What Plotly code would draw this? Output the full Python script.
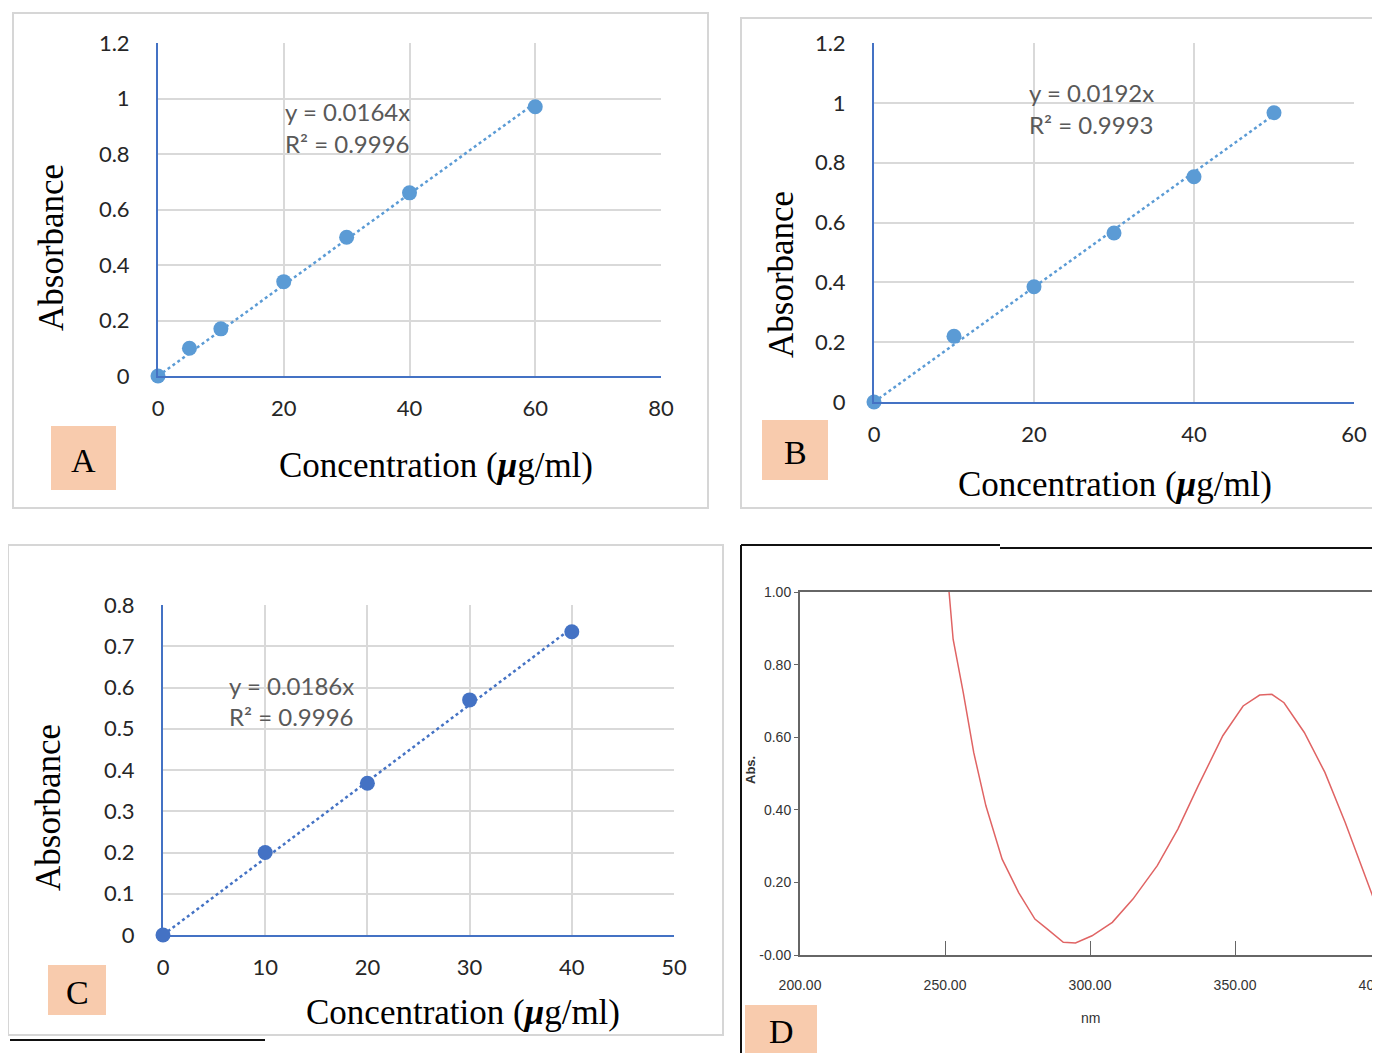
import plotly.graph_objects as go

# The page places the figure 8 px in from the window's top-left corner.
OFF = 8
W, H = 1380 - OFF, 1053 - OFF

# ---------------- data ----------------
a_conc = [0, 5, 10, 20, 30, 40, 60]
a_abs = [0, 0.10, 0.17, 0.34, 0.50, 0.66, 0.97]
a_slope = 0.0164
a_r2 = "0.9996"

b_conc = [0, 10, 20, 30, 40, 50]
b_abs = [0, 0.22, 0.385, 0.565, 0.753, 0.967]
b_slope = 0.0192
b_r2 = "0.9993"

c_conc = [0, 10, 20, 30, 40]
c_abs = [0, 0.20, 0.368, 0.57, 0.735]
c_slope = 0.0186
c_r2 = "0.9996"

d_nm = [251.4, 252.8, 256.3, 259.9, 264.1, 269.7, 275.4, 281.0, 285.2, 290.8,
        295.0, 300.7, 307.7, 314.8, 323.2, 330.3, 337.3, 345.8, 352.8, 358.5,
        362.7, 366.9, 373.9, 381.0, 388.0, 395.0, 400.4]
d_abs = [1.0, 0.87, 0.723, 0.558, 0.411, 0.264, 0.172, 0.099, 0.072, 0.035,
         0.033, 0.053, 0.09, 0.154, 0.246, 0.347, 0.466, 0.604, 0.686, 0.716,
         0.718, 0.695, 0.613, 0.503, 0.365, 0.218, 0.099]
d_xticks = [200, 250, 300, 350, 400]
d_xlabels = ["200.00", "250.00", "300.00", "350.00", "400.00"]
d_yticks = [0, 0.2, 0.4, 0.6, 0.8, 1.0]
d_ylabels = ["-0.00", "0.20", "0.40", "0.60", "0.80", "1.00"]


def px(x):
    return (x - OFF) / W


def py(y):
    return 1 - (y - OFF) / H


fig = go.Figure()

TICKFONT = dict(family="Lato, Open Sans, sans-serif", size=22, color="#262626")
SERIF = "Liberation Serif, Times New Roman, serif"
AXBLUE = "#4472c4"
GRID = "#d9d9d9"

panels = [
    ("", a_conc, a_abs, a_slope, a_r2, "#5b9bd5", (158, 661), (376, 43), (0, 80), (0, 1.2), 20, 0.2),
    ("2", b_conc, b_abs, b_slope, b_r2, "#5b9bd5", (874, 1354), (402, 43), (0, 60), (0, 1.2), 20, 0.2),
    ("3", c_conc, c_abs, c_slope, c_r2, "#4472c4", (163, 674), (935, 605), (0, 50), (0, 0.8), 10, 0.1),
]

layout_axes = {}
for name, xs, ys, slope, r2, col, xd, yd, xr, yr, dx, dy in panels:
    xa = "x" + name
    ya = "y" + name
    fig.add_trace(go.Scatter(
        x=[0, max(xs)], y=[0, slope * max(xs)], mode="lines",
        line=dict(color=col, width=2.5, dash="dot"),
        xaxis=xa, yaxis=ya, showlegend=False, cliponaxis=False))
    fig.add_trace(go.Scatter(
        x=xs, y=ys, mode="markers",
        marker=dict(color=col, size=15),
        xaxis=xa, yaxis=ya, showlegend=False, cliponaxis=False))
    layout_axes["xaxis" + name] = dict(
        domain=[px(xd[0]), px(xd[1])], range=list(xr), dtick=dx, tick0=0,
        anchor=ya, showgrid=True, gridcolor=GRID, gridwidth=1.5,
        showline=True, linecolor=AXBLUE, linewidth=2, zeroline=False,
        tickfont=TICKFONT, ticks="", ticklabelstandoff=12, fixedrange=True)
    layout_axes["yaxis" + name] = dict(
        domain=[py(yd[0]), py(yd[1])], range=list(yr), dtick=dy, tick0=0,
        anchor=xa, showgrid=True, gridcolor=GRID, gridwidth=1.5,
        showline=True, linecolor=AXBLUE, linewidth=2, zeroline=False,
        tickfont=TICKFONT, ticks="", ticklabelstandoff=22, fixedrange=True)

# Panel D spectrum
fig.add_trace(go.Scatter(
    x=d_nm, y=d_abs, mode="lines", line=dict(color="#e06464", width=1.5),
    xaxis="x4", yaxis="y4", showlegend=False))
DFONT = dict(family="Liberation Sans Narrow, Liberation Sans, sans-serif", size=14, color="#333333")
layout_axes["xaxis4"] = dict(
    domain=[px(800), 1.0], range=[200, 400], tickvals=d_xticks, ticktext=d_xlabels,
    anchor="y4", showgrid=False, showline=True, mirror=True, linecolor="#666666",
    linewidth=2, zeroline=False, ticks="inside", ticklen=14, tickcolor="#666666",
    tickfont=DFONT, ticklabelstandoff=16, ticklabeloverflow="allow", fixedrange=True)
layout_axes["yaxis4"] = dict(
    domain=[py(955), py(592)], range=[0, 1.0], tickvals=d_yticks, ticktext=d_ylabels,
    anchor="x4", showgrid=False, showline=True, mirror=True, linecolor="#666666",
    linewidth=2, zeroline=False, ticks="outside", ticklen=4, tickcolor="#666666",
    tickfont=DFONT, fixedrange=True)

shapes = []
for (x0, y0, x1, y1) in [(13, 13, 708, 508), (741, 18, 1379, 508), (8, 545, 723, 1035)]:
    shapes.append(dict(type="rect", xref="paper", yref="paper",
                       x0=px(x0), x1=px(x1), y0=py(y1), y1=py(y0),
                       line=dict(color="#d6d6d6", width=2), layer="below"))
for (x0, y0, x1, y1) in [(741, 545, 741, 1053), (741, 545, 1000, 545), (1000, 548, 1380, 548), (10, 1040, 265, 1040)]:
    shapes.append(dict(type="line", xref="paper", yref="paper",
                       x0=px(x0), x1=px(x1), y0=py(y0), y1=py(y1),
                       line=dict(color="#111111", width=2)))

labels = [("A", 51, 426, 116, 490), ("B", 762, 420, 828, 480), ("C", 48, 965, 106, 1015), ("D", 745, 1005, 817, 1053)]
annotations = []


def ann(text, x, y, font, xanchor="center", yanchor="middle", angle=0):
    annotations.append(dict(text=text, x=px(x), y=py(y), xref="paper", yref="paper",
                            xanchor=xanchor, yanchor=yanchor, textangle=angle,
                            showarrow=False, font=font))


for t, x0, y0, x1, y1 in labels:
    shapes.append(dict(type="rect", xref="paper", yref="paper",
                       x0=px(x0), x1=px(x1), y0=py(y1), y1=py(y0),
                       fillcolor="#f8cbad", line=dict(width=0)))
    ann(t, (x0 + x1) / 2, (y0 + y1) / 2 + 2, dict(family=SERIF, size=34, color="#000000"))

EQFONT = dict(family="Lato, Open Sans, sans-serif", size=24, color="#595959")
for (slope, r2, x, y1, y2) in [(a_slope, a_r2, 283, 111, 143), (b_slope, b_r2, 1027, 92, 124), (c_slope, c_r2, 227, 685, 716)]:
    ann(f"y = {slope}x", x, y1, EQFONT, xanchor="left")
    ann(f"R² = {r2}", x, y2, EQFONT, xanchor="left")

TITLEFONT = dict(family=SERIF, size=35, color="#000000")
for (x, y) in [(52, 248), (781, 275), (48, 808)]:
    ann("Absorbance", x, y, TITLEFONT, angle=-90)
for (x, y) in [(436, 465), (1115, 484), (463, 1012)]:
    ann("Concentration (<b><i>μ</i></b>g/ml)", x, y, TITLEFONT)

ann("<b>Abs.</b>", 750, 770, dict(family="Liberation Sans", size=13, color="#333333"), angle=-90)
ann("nm", 1090, 1018, dict(family="Liberation Sans Narrow, Liberation Sans", size=14, color="#333333"))

fig.update_layout(
    width=W, height=H, margin=dict(l=0, r=0, t=0, b=0, autoexpand=False),
    paper_bgcolor="white", plot_bgcolor="white",
    shapes=shapes, annotations=annotations, **layout_axes)

fig.write_html("out.html")
